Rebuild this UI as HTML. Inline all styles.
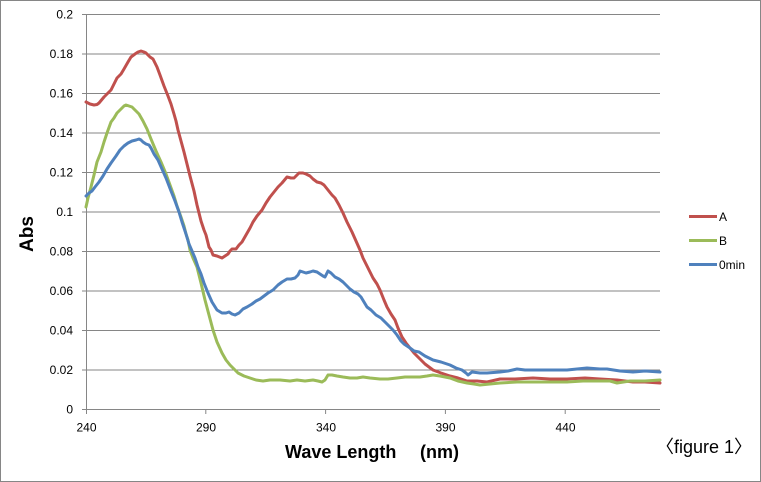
<!DOCTYPE html>
<html><head><meta charset="utf-8"><style>
html,body{margin:0;padding:0;background:#fff;}
svg{display:block;font-family:"Liberation Sans","Noto Sans CJK JP",sans-serif;}
</style></head><body>
<svg width="761" height="482" viewBox="0 0 761 482" xmlns="http://www.w3.org/2000/svg">
<rect x="0.5" y="0.5" width="760" height="481" fill="#fff" stroke="#868686" stroke-width="1"/>
<g stroke="#868686" stroke-width="1" fill="none">
<line x1="86" y1="14.5" x2="660" y2="14.5"/>
<line x1="86" y1="54" x2="660" y2="54"/>
<line x1="86" y1="93.5" x2="660" y2="93.5"/>
<line x1="86" y1="133" x2="660" y2="133"/>
<line x1="86" y1="172.5" x2="660" y2="172.5"/>
<line x1="86" y1="212" x2="660" y2="212"/>
<line x1="86" y1="251.5" x2="660" y2="251.5"/>
<line x1="86" y1="291" x2="660" y2="291"/>
<line x1="86" y1="330.5" x2="660" y2="330.5"/>
<line x1="86" y1="370" x2="660" y2="370"/>
<line x1="82" y1="409.5" x2="660" y2="409.5"/>
<line x1="86.5" y1="14" x2="86.5" y2="414"/>
<line x1="82" y1="14.5" x2="86" y2="14.5"/>
<line x1="82" y1="54" x2="86" y2="54"/>
<line x1="82" y1="93.5" x2="86" y2="93.5"/>
<line x1="82" y1="133" x2="86" y2="133"/>
<line x1="82" y1="172.5" x2="86" y2="172.5"/>
<line x1="82" y1="212" x2="86" y2="212"/>
<line x1="82" y1="251.5" x2="86" y2="251.5"/>
<line x1="82" y1="291" x2="86" y2="291"/>
<line x1="82" y1="330.5" x2="86" y2="330.5"/>
<line x1="82" y1="370" x2="86" y2="370"/>
<line x1="205.8" y1="409" x2="205.8" y2="414"/>
<line x1="325.6" y1="409" x2="325.6" y2="414"/>
<line x1="445.4" y1="409" x2="445.4" y2="414"/>
<line x1="565.2" y1="409" x2="565.2" y2="414"/>
</g>
<g font-size="12" fill="#000" text-anchor="end">
<text x="73" y="18.5">0.2</text>
<text x="73" y="58">0.18</text>
<text x="73" y="97.5">0.16</text>
<text x="73" y="137">0.14</text>
<text x="73" y="176.5">0.12</text>
<text x="73" y="216">0.1</text>
<text x="73" y="255.5">0.08</text>
<text x="73" y="295">0.06</text>
<text x="73" y="334.5">0.04</text>
<text x="73" y="374">0.02</text>
<text x="73" y="413.5">0</text>
</g>
<g font-size="12" fill="#000" text-anchor="middle">
<text x="86.5" y="431.5">240</text>
<text x="206" y="431.5">290</text>
<text x="326" y="431.5">340</text>
<text x="445.5" y="431.5">390</text>
<text x="565.5" y="431.5">440</text>
</g>
<text x="285" y="458" font-size="18" font-weight="bold" fill="#000">Wave Length</text>
<text x="420" y="458" font-size="18" font-weight="bold" fill="#000">(nm)</text>
<text transform="translate(33,234) rotate(-90)" text-anchor="middle" font-size="19" font-weight="bold" fill="#000">Abs</text>
<text x="656" y="453" font-size="18" fill="#000">〈figure 1〉</text>
<g fill="none" stroke-width="3" stroke-linejoin="round" stroke-linecap="round">
<polyline stroke="#C0504D" points="86,102 90,104 94,105 97,104.5 99,103 104,97 108,93 111,90 114,84 117,78 121,74 124,69 128,62 131,57 135,54 138,52 141,51 144,52 146,53 150,57 153,59 157,67 160,75 164,86 168,96 171,104 174,114 176,121 178,130 181,141 184,152 187,164 190,176 194,191 197,205 201,221 204,230 206,235 209,247 211,250 213,255 217,256 222,258 225,256 228,254 230,251 232,249 236,249 239,245 242,242 246,235 250,228 253,222 257,216 262,210 266,203 270,197 274,192 278,187 282,183 287,177 291,178 294,178 297,175 299,173 303,173 306,174 310,176 313,179 317,182 321,183 324,185 328,190 332,195 335,198 339,205 343,213 347,222 352,232 356,241 360,250 363,258 366,264 370,272 373,278 377,284 380,290 384,300 387,307 391,314 395,320 398,328 402,337 406,343 410,348 414,353 419,358 425,364 433,370 441,373 450,376 458,378 467,381 477,381 487,382 500,379 515,379 533,378 550,379 567,379 585,378 600,379 617,380 633,382 645,382 660,383"/>
<polyline stroke="#9BBB59" points="86,207 88,198 91,187 94,175 97,162 101,152 104,142 107,133 111,122 114,118 117,113 121,109 124,106 126,105 129,106 132,107 135,110 139,114 143,121 147,129 151,139 156,151 161,162 166,174 170,185 174,196 177,206 181,217 184,226 186,234 188,240 190,250 193,258 197,267 201,283 205,300 209,315 213,330 217,342 222,353 226,360 230,365 234,369 238,373 244,376 250,378 256,380 263,381 270,380 280,380 290,381 297,380 305,381 313,380 318,381 322,382 325,380 328,375 332,375 337,376 343,377 350,378 357,378 363,377 370,378 380,379 388,379 397,378 405,377 413,377 420,377 427,376 433,375 440,376 450,378 458,381 467,383 474,384 480,385 490,384 500,383 517,382 533,382 550,382 567,382 583,381 600,381 610,381 617,383 630,381 645,381 660,380"/>
<polyline stroke="#4F81BD" points="86,196 89,193 92,191 95,187 99,182 103,176 107,169 111,163 116,156 120,150 124,146 128,143 132,141 136,140 139,139 141,140 143,142 146,144 149,145 151,148 154,154 158,160 162,169 166,178 171,191 175,201 179,212 182,222 186,234 189,244 192,251 195,258 198,267 201,274 204,283 208,293 212,302 217,310 222,313 226,313 229,312 232,314 235,315 239,313 243,309 247,307 252,304 256,301 260,299 264,296 268,293 273,290 278,285 282,282 287,279 291,279 295,278 298,275 300,271 303,272 306,273 310,272 313,271 317,272 320,274 323,276 325,277 327,273 328,271 331,273 335,277 339,279 343,282 347,286 350,289 354,292 358,294 361,297 364,302 367,307 371,310 376,315 381,318 385,322 389,326 393,330 397,335 401,341 404,344 407,346 410,348 414,351 419,352 425,356 433,360 441,362 450,365 456,368 462,370 466,373 468,375 472,372 480,373 487,373 500,372 508,371 517,369 525,370 533,370 550,370 567,370 577,369 587,368 600,369 607,369 620,371 633,372 645,371 660,372"/>
</g>
<g stroke-width="3">
<line x1="689" y1="216.5" x2="717" y2="216.5" stroke="#C0504D"/>
<line x1="689" y1="240.5" x2="717" y2="240.5" stroke="#9BBB59"/>
<line x1="689" y1="264.5" x2="717" y2="264.5" stroke="#4F81BD"/>
</g>
<g font-size="12" fill="#000">
<text x="719" y="221">A</text>
<text x="719" y="245">B</text>
<text x="719" y="269">0min</text>
</g>
</svg>
</body></html>
